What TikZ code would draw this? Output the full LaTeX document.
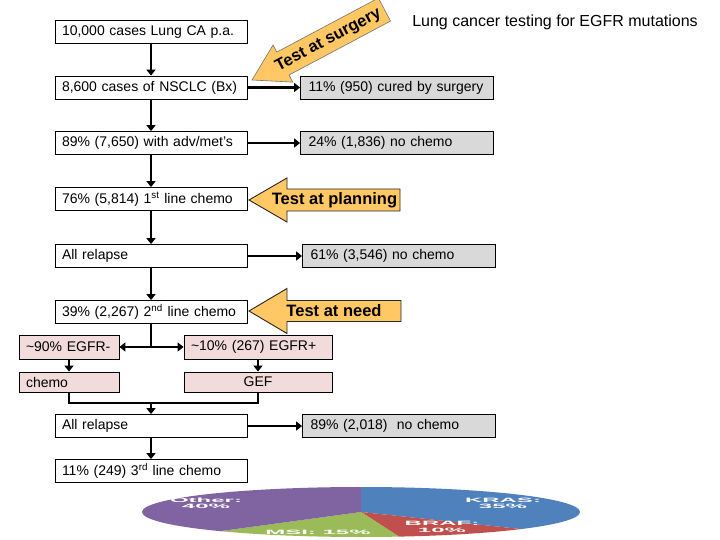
\documentclass[tikz,border=0pt]{standalone}
\usepackage{fontspec}
\setmainfont{Liberation Sans}
\usetikzlibrary{arrows.meta,calc}
\definecolor{grayfill}{RGB}{217,217,217}
\definecolor{pinkfill}{RGB}{242,220,219}
\definecolor{orangefill}{RGB}{255,200,100}
\definecolor{piepurple}{RGB}{128,100,162}
\definecolor{pieblue}{RGB}{79,129,189}
\definecolor{piered}{RGB}{192,80,77}
\definecolor{piegreen}{RGB}{155,187,89}
\tikzset{
  x=1pt, y=1pt,
  box/.style={draw=black, line width=0.8pt, fill=white, minimum height=23pt,
    inner xsep=7pt, inner ysep=0pt, text width=#1, align=left,
    font=\fontsize{14}{16}\selectfont},
  box/.default=178pt,
  graybox/.style={box=#1, fill=grayfill, inner xsep=8pt},
  graybox/.default=177pt,
  pinkbox/.style={box=#1, fill=pinkfill, minimum height=24pt},
  mainarrow/.style={line width=2.8pt, -{Triangle[width=9pt,length=6pt]}},
  sidearrow/.style={line width=2.3pt, -{Triangle[width=9pt,length=6pt]}},
  plainline/.style={line width=2.8pt},
  thinline/.style={line width=1.9pt},
  testarrow/.style={fill=orangefill, draw=black!85, line width=0.9pt, line join=miter},
  testtext/.style={font=\fontsize{16.5}{18}\selectfont\bfseries, inner sep=0pt},
  pielabel/.style={text=white, font=\fontsize{24}{24}\selectfont\bfseries, yscale=0.26, align=center, inner sep=0pt},
}
\begin{document}
\begin{tikzpicture}
\useasboundingbox (0,0) rectangle (720,-540);
\fill[white] (0,0) rectangle (720,-540);
\clip (0,0) rectangle (720,-540);

% title
\node[font=\fontsize{16}{18}\selectfont, inner sep=0pt] (title) at (555,-22) {Lung cancer testing for EGFR mutations};

% left column
\node[box] (b1) at (151,-32) {10,000 cases Lung CA p.a.};
\node[box] (b2) at (151,-87.5) {8,600 cases of NSCLC (Bx)};
\node[box] (b3) at (151,-143) {89\% (7,650) with adv/met's};
\node[box] (b4) at (151,-199) {76\% (5,814) 1\textsuperscript{st} line chemo};
\node[box] (b5) at (151,-256) {All relapse};
\node[box] (b6) at (151,-312) {39\% (2,267) 2\textsuperscript{nd} line chemo};
\node[box] (b7) at (151,-426) {All relapse};
\node[box] (b8) at (151,-471) {11\% (249) 3\textsuperscript{rd} line chemo};

% right column
\node[graybox] (g1) at (397,-87.5) {11\% (950) cured by surgery};
\node[graybox] (g2) at (397,-143) {24\% (1,836) no chemo};
\node[graybox] (g3) at (399,-256) {61\% (3,546) no chemo};
\node[graybox] (g4) at (399,-426) {89\% (2,018) \ no chemo};

% pink boxes
\node[pinkbox=86pt] (p1) at (69,-347) {\textasciitilde 90\% EGFR-};
\node[pinkbox=134pt] (p2) at (258,-347) {\textasciitilde 10\% (267) EGFR+};
\node[pinkbox=86pt, minimum height=20pt] (p3) at (69,-382) {chemo};
\node[pinkbox=134pt, minimum height=20pt, align=center] (p4) at (258,-382) {GEF};

% vertical flow
\draw[mainarrow] (b1.south) -- (b2.north);
\draw[mainarrow] (b2.south) -- (b3.north);
\draw[mainarrow] (b3.south) -- (b4.north);
\draw[mainarrow] (b4.south) -- (b5.north);
\draw[mainarrow] (b5.south) -- (b6.north);
\coordinate (split) at (b6.south |- p1.center);
\draw[thinline] (b6.south) -- (split);
\draw[line width=2.8pt, {Triangle[width=9pt,length=6pt]}-{Triangle[width=9pt,length=6pt]}] (p1.east) -- (p2.west);
\draw[mainarrow] (p1.south) -- (p3.north);
\draw[mainarrow] (p2.south) -- (p4.north);
\coordinate (join) at (151,-403);
\draw[plainline] (p3.south) -- (p3.south |- join) -- (p4.south |- join) -- (p4.south);
\draw[mainarrow] (join) -- (b7.north);
\draw[mainarrow] (b7.south) -- (b8.north);

% side arrows
\draw[sidearrow] (b2.east) -- (g1.west);
\draw[sidearrow] (b3.east) -- (g2.west);
\draw[sidearrow] (b5.east) -- (g3.west);
\draw[sidearrow] (b7.east) -- (g4.west);

% Test at surgery (rotated)
\begin{scope}[shift={(252,-80)}, rotate=28]
  \draw[testarrow, draw=black!55, line width=0.6pt] (0,0) -- (35,21) -- (35,13) -- (150,13) -- (150,-13) -- (35,-13) -- (35,-21) -- cycle;
  \node[testtext, rotate=28] (tsurg) at (86,-1) {Test at surgery};
\end{scope}

% Test at planning
\draw[testarrow] (249,-200) -- (287,-178) -- (287,-189) -- (400,-189) -- (400,-211) -- (287,-211) -- (287,-222) -- cycle;
\node[testtext] (tplan) at (334.5,-200) {Test at planning};

% Test at need
\draw[testarrow] (249,-311) -- (287,-288.5) -- (287,-300.5) -- (401,-300.5) -- (401,-321.5) -- (287,-321.5) -- (287,-333.5) -- cycle;
\node[testtext] (tneed) at (334,-311) {Test at need};

% pie chart
\coordinate (pc) at (361,-512);
\fill[pieblue] (pc) -- ++(90:219pt and 25pt) arc[start angle=90, end angle=-43, x radius=219pt, y radius=25pt] -- cycle;
\fill[piered] (pc) -- ++(-43:219pt and 25pt) arc[start angle=-43, end angle=-80, x radius=219pt, y radius=25pt] -- cycle;
\fill[piegreen] (pc) -- ++(-80:219pt and 25pt) arc[start angle=-80, end angle=-130, x radius=219pt, y radius=25pt] -- cycle;
\fill[piepurple] (pc) -- ++(230:219pt and 25pt) arc[start angle=230, end angle=90, x radius=219pt, y radius=25pt] -- cycle;
\node[pielabel] (lother) at (206,-503) {Other:\\40\%};
\node[pielabel] (lkras) at (503,-503) {KRAS:\\35\%};
\node[pielabel] (lbraf) at (442,-527) {BRAF:\\10\%};
\node[pielabel] (lmsi) at (318,-532) {MSI: 15\%};
\end{tikzpicture}
\end{document}
